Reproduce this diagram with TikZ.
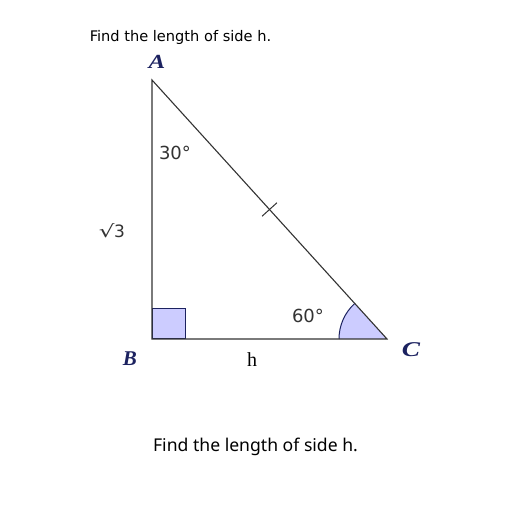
\documentclass[tikz,border=0pt]{standalone}
\usepackage{fontspec}
\usepackage{xcolor}
\usetikzlibrary{calc}
\newfontfamily\dejavu{DejaVu Sans}
\newfontfamily\notosans{Noto Sans}
\newfontfamily\serifrm{Liberation Serif}
\definecolor{navy}{HTML}{1C2260}
\definecolor{anglefill}{HTML}{CCCCFF}
\definecolor{edgegray}{HTML}{333333}
\begin{document}
\begin{tikzpicture}[x=1pt, y=1pt, every node/.style={inner sep=0pt, anchor=center},
  side/.style={draw=edgegray, line width=1.1pt},
  vlabel/.style={font=\serifrm\bfseries\itshape\fontsize{20}{20}\selectfont, text=navy},
  alabel/.style={font=\dejavu\fontsize{18}{18}\selectfont, text=edgegray}]
\useasboundingbox (0,0) rectangle (512,512);
\fill[white] (0,0) rectangle (512,512);
% vertices
\coordinate (A) at (152,432);
\coordinate (B) at (152,173);
\coordinate (C) at (387,173);
% right angle and angle at C
\filldraw[fill=anglefill, draw=navy, line width=1pt] (B) rectangle (185,203);
\fill[anglefill] (C) -- ++(180:48) arc[start angle=180, end angle=132.2, radius=48] -- cycle;
\draw[navy, line width=1pt] ($(C)+(180:48)$) arc[start angle=180, end angle=132.2, radius=48];
% triangle
\draw[side] (A) -- (B) -- (C) -- cycle;
% tick on AC
\coordinate (M) at ($(A)!0.5!(C)$);
\draw[edgegray, line width=1pt] ($(M)!10pt!90:(C)$) -- ($(M)!10pt!-90:(C)$);
% labels
\node (title) at (180.5,475) {\dejavu\fontsize{14.6}{14.6}\selectfont Find the length of side h.};
\node[vlabel] (labA) at (157,450) {\scalebox{1.25}[1]{A}};
\node[vlabel, font=\serifrm\bfseries\itshape\fontsize{21}{21}\selectfont] (labB) at (130,153) {B};
\node[vlabel, font=\serifrm\bfseries\itshape\fontsize{21}{21}\selectfont] (labC) at (411,162) {\scalebox{1.3}[1]{C}};
\node (labh) at (252,152) {\serifrm\fontsize{20}{20}\selectfont h};
\node[alabel] (ang30) at (175,359) {30°};
\node[alabel] (ang60) at (308,196) {60°};
\node[alabel, font=\dejavu\fontsize{17}{17}\selectfont] (sqrt3) at (112,281) {\scalebox{1.45}[1]{√}\kern-0.5pt3};
\node (question) at (255.5,65) {\notosans\fontsize{17.6}{17.6}\selectfont Find the length of side h.};
\end{tikzpicture}
\end{document}
